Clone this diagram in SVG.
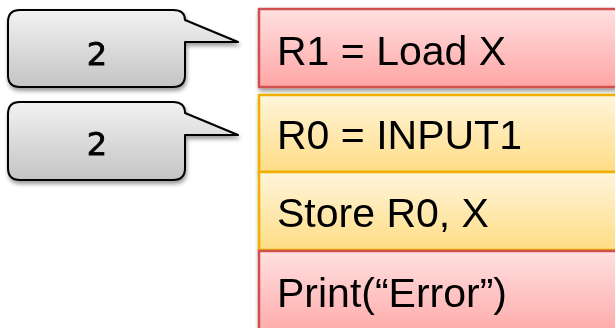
<svg xmlns="http://www.w3.org/2000/svg" width="615" height="328" viewBox="0 0 615 328">
<defs>
<linearGradient id="gRed" x1="0" y1="0" x2="0" y2="1"><stop offset="0" stop-color="#ffe0e0"/><stop offset="1" stop-color="#ffa5a5"/></linearGradient>
<linearGradient id="gYel" x1="0" y1="0" x2="0" y2="1"><stop offset="0" stop-color="#fff5dc"/><stop offset="1" stop-color="#ffdd85"/></linearGradient>
<linearGradient id="gGray" x1="0" y1="0" x2="0" y2="1"><stop offset="0" stop-color="#f2f2f2"/><stop offset="1" stop-color="#c4c4c4"/></linearGradient>
<filter id="sh" x="-10%" y="-10%" width="130%" height="140%"><feGaussianBlur in="SourceAlpha" stdDeviation="2"/><feOffset dx="1" dy="3"/><feComponentTransfer><feFuncA type="linear" slope="0.4"/></feComponentTransfer><feMerge><feMergeNode/><feMergeNode in="SourceGraphic"/></feMerge></filter>
</defs>
<style>
.red{fill:url(#gRed);stroke:#d05050;stroke-width:2.5}
.yel{fill:url(#gYel);stroke:#f0b000;stroke-width:2.5}
.bub{fill:url(#gGray);stroke:#000;stroke-width:2;stroke-linejoin:round}
.t{font-family:"Liberation Sans",Arial,sans-serif;font-size:41px;fill:#000}
.n{font-family:"DejaVu Sans",Verdana,sans-serif;font-size:32px;fill:#000;stroke:#000;stroke-width:0.8;text-anchor:middle}
</style>
<g id="box1" filter="url(#sh)"><rect class="red" x="259" y="9" width="370" height="78"/><text class="t" x="277" y="65">R1 = Load X</text></g>
<g id="box2" filter="url(#sh)"><rect class="yel" x="259" y="95" width="370" height="77"/><text class="t" x="277" y="149">R0 = INPUT1</text></g>
<g id="box3" filter="url(#sh)"><rect class="yel" x="259" y="172" width="370" height="78"/><text class="t" x="277" y="227">Store R0, X</text></g>
<g id="box4" filter="url(#sh)"><rect class="red" x="259" y="251" width="370" height="90"/><text class="t" x="277" y="307">Print(“Error”)</text></g>
<g id="bubble1" filter="url(#sh)"><path class="bub" d="M20,10 H173 Q185,10 185,20 L238,42 H185 V75 Q185,87 173,87 H20 Q8,87 8,75 V22 Q8,10 20,10 Z"/><text class="n" x="97" y="65">2</text></g>
<g id="bubble2" filter="url(#sh)"><path class="bub" d="M20,102 H173 Q185,102 185,113 L238,135 H185 V168 Q185,180 173,180 H20 Q8,180 8,168 V114 Q8,102 20,102 Z"/><text class="n" x="97" y="155">2</text></g>
<g id="connectors"/>
</svg>
